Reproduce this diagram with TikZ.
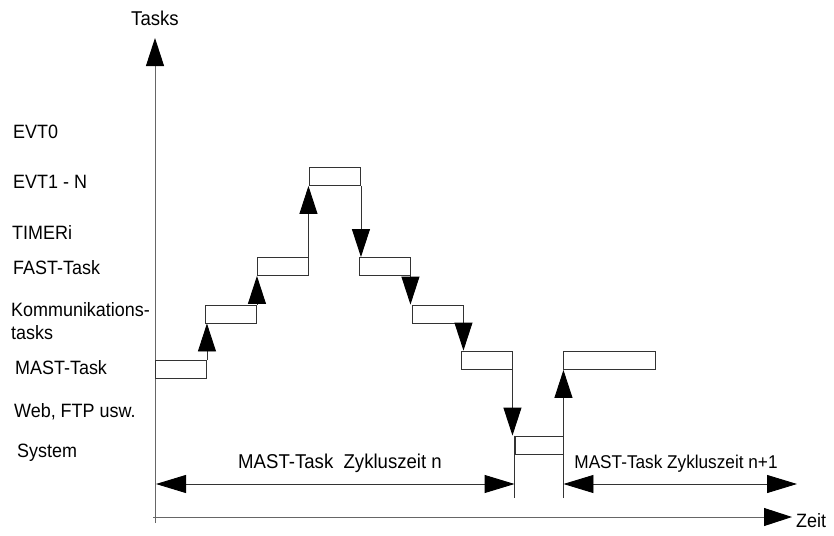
\documentclass[tikz,border=0pt]{standalone}
\usepackage{fontspec}
\setmainfont{Liberation Sans}[FakeStretch=0.93]
\usepackage{tikz}
\usetikzlibrary{arrows.meta}

\begin{document}
\begin{tikzpicture}[x=1pt,y=-1pt,
  font=\fontsize{20}{23}\selectfont,
  taskbox/.style={draw=black!80,line width=0.9pt,minimum height=18pt,
    minimum width=51pt,inner sep=0pt},
  lbl/.style={anchor=west,inner sep=0pt,font=\fontsize{19.3}{23}\selectfont},
  up/.style={draw=black!80,line width=0.9pt,
    -{Triangle[width=18pt,length=28pt,color=black]}},
  both/.style={draw=black!80,line width=0.9pt,
    {Triangle[width=18pt,length=30pt,color=black]}-{Triangle[width=18pt,length=30pt,color=black]}}]
  \useasboundingbox (0,0) rectangle (834,535);
  % axes
  \coordinate (o) at (155,523);
  \coordinate (top) at (155,38);
  \coordinate (xs) at (153,517);
  \coordinate (xe) at (792,517);
  \draw[up,draw=black!60] (o) -- (top);
  \draw[up,draw=black!60] (xs) -- (xe);
  \node (tasks) at (155,18) {Tasks};
  \node[lbl] (zeit) at (796,521) {Zeit};
  % task levels
  \node[lbl] (evt0) at (13,132) {EVT0};
  \node[lbl] (evt1) at (13,182) {EVT1 - N};
  \node[lbl] (timer) at (12,233) {TIMERi};
  \node[lbl] (fast) at (13,268) {FAST-Task};
  \node[lbl,align=left] (komm) at (11,321) {Kommunikations-\\tasks};
  \node[lbl] (mast) at (15,368) {MAST-Task};
  \node[lbl] (web) at (14,412) {Web, FTP usw.};
  \node[lbl] (sys) at (17,453) {System};
  % boxes
  \node[taskbox] (b1) at (181,369.5) {};
  \node[taskbox] (b2) at (231,314) {};
  \node[taskbox] (b3) at (282.5,266.5) {};
  \node[taskbox] (b4) at (335,176.5) {};
  \node[taskbox] (b5) at (384.5,266.5) {};
  \node[taskbox] (b6) at (437.5,314) {};
  \node[taskbox] (b7) at (486.5,360) {};
  \node[taskbox,minimum width=48pt] (bsys) at (539,445) {};
  \node[taskbox,minimum width=92pt] (b8) at (609,360.5) {};
  % up and down
  \draw[up] (b1.north east) -- (b1.north east |- b2.south);
  \draw[up] (b2.north east) -- (b2.north east |- b3.south);
  \draw[up] (b3.north east) -- (b3.north east |- b4.south);
  \draw[up] (b4.south east) -- (b4.south east |- b5.north);
  \draw[up] (b5.south east) -- (b5.south east |- b6.north);
  \draw[up] (b6.south east) -- (b6.south east |- b7.north);
  \draw[up] (b7.south east) -- (b7.south east |- bsys.north);
  % cycle marks
  \coordinate (m1) at (bsys.west |- 0,498);
  \coordinate (m2) at (bsys.east |- 0,498);
  \draw[draw=black!80,line width=0.9pt] (bsys.north west) -- (m1);
  \draw[up] (m2) -- (m2 |- b8.south);
  \coordinate (c0) at (156,484);
  \coordinate (c1) at (m1 |- 0,484);
  \coordinate (c2) at (m2 |- 0,484);
  \coordinate (c3) at (797,484);
  \draw[both] (c0) -- (c1);
  \draw[both] (c2) -- (c3);
  \node (zn) at (340,463) {MAST-Task\ \ Zykluszeit n};
  \node[font=\fontsize{18.5}{22}\selectfont] (zn1) at (676,464) {MAST-Task Zykluszeit n+1};
\end{tikzpicture}
\end{document}
